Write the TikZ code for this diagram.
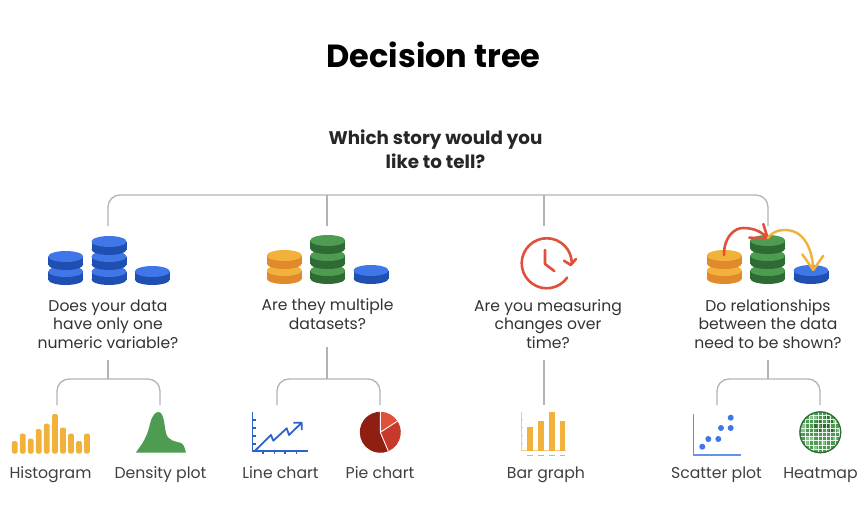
\documentclass[tikz,border=0pt]{standalone}
\usepackage{fontspec}
\setmainfont{Poppins}
\usepackage{xcolor}
\usetikzlibrary{arrows.meta, calc}
\definecolor{treegray}{HTML}{B0B4B9}
\definecolor{labelgray}{HTML}{3C4043}
\definecolor{lineblue}{HTML}{2F62C8}
\definecolor{blueA}{HTML}{3F76E8}
\definecolor{blueB}{HTML}{1F4FB0}
\definecolor{orangeA}{HTML}{F2B13B}
\definecolor{orangeB}{HTML}{E08A2C}
\definecolor{greenA}{HTML}{4E9C52}
\definecolor{greenB}{HTML}{2E6A33}
\definecolor{redA}{HTML}{E0503A}
\definecolor{redB}{HTML}{C8392B}
\definecolor{redC}{HTML}{8E1F12}
\tikzset{
  every node/.style={inner sep=0pt, outer sep=0pt},
  branch/.style={draw=treegray, line width=1.3pt, rounded corners=12pt},
  question/.style={font=\fontsize{15.6}{18.4}\selectfont, text=labelgray!80!black, align=center},
  chartlabel/.style={font=\fontsize{15.7}{18.4}\selectfont, text=labelgray, anchor=base}
}
\newcommand{\datadisk}[4]{%
  \fill[#4] (#1,#2+13.5) ellipse [x radius=17.5pt, y radius=5.5pt];
  \fill[#4] (#1-17.5,#2+5.5) rectangle (#1+17.5,#2+13.5);
  \fill[#3] (#1,#2+5.5) ellipse [x radius=17.5pt, y radius=5.5pt];
}
\begin{document}
\begin{tikzpicture}[x=1pt, y=-1pt]
  \useasboundingbox (0,0) rectangle (868,524);

  \node[font=\fontsize{32}{36}\selectfont\bfseries] (title) at (433.5,55) {Decision tree};
  \node[font=\fontsize{18.3}{24}\selectfont\bfseries, text=black!85, align=center] (story) at (435.5,149.5) {Which story would you\\like to tell?};

  % questions
  \node[question] (onevar) at (108,324) {Does your data\\have only one\\numeric variable?};
  \node[question] (multi) at (327.5,314) {Are they multiple\\datasets?};
  \node[question] (time) at (548,324) {Are you measuring\\changes over\\time?};
  \node[question] (rel) at (768,324) {Do relationships\\between the data\\need to be shown?};

  % chart labels
  \node[chartlabel] (histo) at (50.5,478) {Histogram};
  \node[chartlabel] (density) at (160.5,478) {Density plot};
  \node[chartlabel] (line) at (280.5,478) {Line chart};
  \node[chartlabel] (pie) at (380,478) {Pie chart};
  \node[chartlabel] (bar) at (546,478) {Bar graph};
  \node[chartlabel] (scatter) at (716.5,478) {Scatter plot};
  \node[chartlabel] (heat) at (820.5,478) {Heatmap};

  % tree
  \coordinate (topA) at (108,226);
  \coordinate (topB) at (327,226);
  \coordinate (topC) at (544,226);
  \coordinate (topD) at (768,226);
  \coordinate (railB) at (327,195);
  \coordinate (railC) at (544,195);
  \draw[branch] (topA) -- (108,195) -- (768,195) -- (topD);
  \draw[branch] (railB) -- (topB);
  \draw[branch] (railC) -- (topC);

  \coordinate (histoTop) at (57,405);
  \coordinate (densityTop) at (160,405);
  \coordinate (lineTop) at (277,405);
  \coordinate (pieTop) at (380,405);
  \coordinate (barTop) at (544,405);
  \coordinate (scatterTop) at (717,405);
  \coordinate (heatTop) at (820,405);
  \coordinate (forkA) at (108,379);
  \coordinate (forkB) at (327,379);
  \coordinate (forkD) at (768,379);
  \draw[branch] (histoTop) -- (57,379) -- (160,379) -- (densityTop);
  \draw[branch] (lineTop) -- (277,379) -- (380,379) -- (pieTop);
  \draw[branch] (scatterTop) -- (717,379) -- (820,379) -- (heatTop);
  \draw[branch] (108,360) -- (forkA);
  \draw[branch] (327,347) -- (forkB);
  \draw[branch] (544,360) -- (barTop);
  \draw[branch] (768,360) -- (forkD);

  % disks, first group
  \datadisk{65.7}{266}{blueA}{blueB}
  \datadisk{65.7}{251}{blueA}{blueB}
  \foreach \y in {266,251,236} {\datadisk{109}{\y}{blueA}{blueB}}
  \datadisk{152.3}{266}{blueA}{blueB}

  % disks, second group
  \foreach \y in {265,250} {\datadisk{284.3}{\y}{orangeA}{orangeB}}
  \foreach \y in {265,250,235} {\datadisk{327.7}{\y}{greenA}{greenB}}
  \datadisk{371}{265}{blueA}{blueB}

  % disks, fourth group
  \foreach \y in {265,250} {\datadisk{724.3}{\y}{orangeA}{orangeB}}
  \foreach \y in {265,250,235} {\datadisk{767.7}{\y}{greenA}{greenB}}
  \datadisk{811}{265}{blueA}{blueB}
  \draw[redA, line width=2.6pt, line cap=round, line join=round]
    (724,255) .. controls (724,236) and (735,228) .. (743,228)
    .. controls (753,228) and (761,231) .. (767.7,238.3)
    (749.3,237.7) -- (767.7,238.3) -- (763.3,224);
  \draw[orangeA, line width=2.4pt, line cap=round, line join=round]
    (767.7,238.3) .. controls (772,232) and (778,230) .. (785,230)
    .. controls (802,230) and (812,245) .. (813.3,270)
    (802.3,254.3) -- (813.3,270) -- (823.3,255.7);

  % clock
  \draw[redA, line width=2.6pt, line cap=round, line join=round]
    (567.2,277.6) arc [start angle=-35, end angle=-360, radius=25pt]
    (564,260.7) -- (570.7,265) -- (576,259)
    (545,250) -- (545,264) -- (554.3,271);

  % histogram
  \foreach \x/\y in {14.7/441,22.7/433.5,30.7/438.5,38.7/429,46.7/423.5,55/414,63/427.5,71/433.5,79/441,87/433.5}
    {\fill[orangeA, rounded corners=1.5pt] (\x-2.8,\y) rectangle (\x+2.8,453.5);}

  % density
  \fill[greenA] (135.7,452.7) .. controls (143,443) and (147,437) .. (150,424)
    .. controls (152,416) and (155,412) .. (158.3,412)
    .. controls (164,412) and (164,424) .. (166,433)
    .. controls (168,441) and (175,441) .. (181,443)
    .. controls (184,444) and (185,449) .. (186,452.7) -- cycle;

  % line chart
  \draw[lineblue, line width=1.5pt] (252.7,411.7) -- (252.7,451) -- (308,451);
  \foreach \y in {420,428,436,444} {\draw[lineblue, line width=1.2pt] (252.7,\y) -- (255.5,\y);}
  \foreach \x in {263,274.5,285,296.5} {\draw[lineblue, line width=1.2pt] (\x,451) -- (\x,454);}
  \draw[lineblue, line width=1.8pt, line join=round]
    (255,450.7) -- (271,435) -- (273.3,440.7) -- (286.7,428.3) -- (289,435) -- (301.7,422.7)
    (293.3,422.7) -- (301.7,422.7) -- (301.7,430);

  % pie
  \fill[redC] (380.3,432.3) -- (380.3,411.8) arc [start angle=90, end angle=293, radius=20.5pt] -- cycle;
  \fill[redB] (380.3,432.3) -- (388.3,451.2) arc [start angle=-67, end angle=33, radius=20.5pt] -- cycle;
  \fill[redA] (380.3,432.3) -- (397.5,421.1) arc [start angle=33, end angle=90, radius=20.5pt] -- cycle;
  \draw[white, line width=0.9pt] (380.3,411.8) -- (380.3,432.3) -- (397.5,421.1) (380.3,432.3) -- (388.3,451.2);

  % bar graph
  \draw[orangeA!65, line width=0.9pt] (521,411.7) -- (521,450.8) -- (565.7,450.8);
  \foreach \y in {419,427,435,443} {\draw[orangeA!65, line width=0.7pt] (521,\y) -- (522.5,\y);}
  \foreach \x/\y in {530/426.7,540.7/421,551.7/411.7,562.3/421}
    {\fill[orangeA] (\x-2.8,\y) rectangle (\x+2.8,450.7);
     \fill[orangeB!70] (\x-2.8,454.5) rectangle (\x+2.8,456);}

  % scatter
  \draw[blueA!80, line width=1.2pt] (693.3,414) -- (693.3,455) -- (740.7,455);
  \foreach \x/\y in {702.3/446.7,708.3/439,718.3/439,721/428,730.7/428,730.7/417.7}
    {\fill[blueA] (\x,\y) circle (3pt);}

  % heatmap
  \begin{scope}
    \clip (820.3,432.3) circle (21pt);
    \fill[greenA] (799,411) rectangle (842,454);
    \foreach \x/\y in {801/424,801/429,805/437,805/441,809/415,813/415,809/437,813/445,821/441,833/420,833/437,837/429}
      {\fill[greenA!65] (\x,\y) rectangle (\x+4.3,\y+4.3);}
    \foreach \x/\y in {817/420,821/424,825/424,817/428,829/428,825/415,829/420,813/424}
      {\fill[greenB] (\x,\y) rectangle (\x+4.3,\y+4.3);}
    \foreach \x in {805,809.3,...,840} {\draw[white, opacity=0.85, line width=0.7pt] (\x,411) -- (\x,454);}
    \foreach \y in {415,419.3,...,452} {\draw[white, opacity=0.85, line width=0.7pt] (799,\y) -- (842,\y);}
    \draw[greenB, line width=2.4pt] (820.3,432.3) circle (21pt);
  \end{scope}
\end{tikzpicture}
\end{document}
